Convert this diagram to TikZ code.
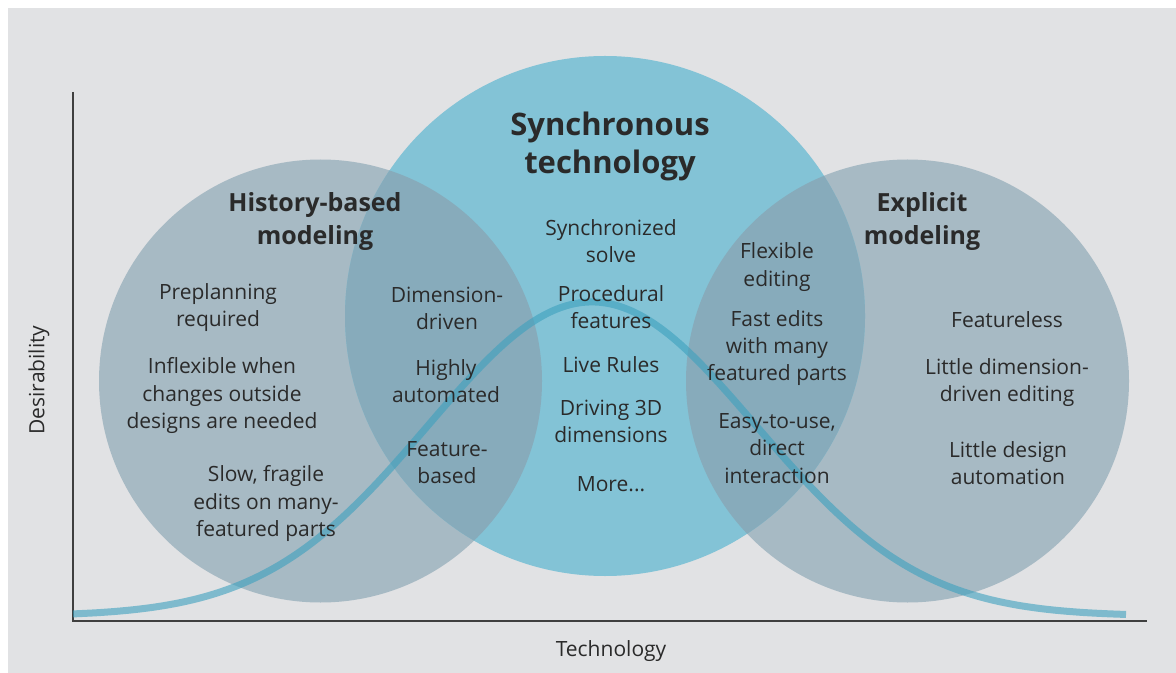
\documentclass[tikz,border=0pt]{standalone}
\usepackage{fontspec}
\setmainfont{Open Sans}

\definecolor{fundo}{HTML}{E1E2E4}
\definecolor{cinzaazul}{HTML}{A7BAC4}
\definecolor{ciano}{HTML}{83C3D6}
\definecolor{sobrepos}{HTML}{87ABBB}
\definecolor{curva}{RGB}{60,160,190}
\definecolor{texto}{HTML}{2A2A2A}

\begin{document}
\begin{tikzpicture}[x=0.5pt, y=-0.5pt,
    rotulo/.style={align=center, text=texto, inner sep=0pt, font=\fontsize{10.5}{13.6}\selectfont},
    titulo/.style={align=center, text=texto, inner sep=0pt, font=\bfseries\fontsize{12.5}{16.5}\selectfont}]

    % Fundo
    \useasboundingbox (0,0) rectangle (1176,673);
    \fill[white] (0,0) rectangle (1176,673);
    \fill[fundo] (8,8) rectangle (1176,673);

    % Centros e raios
    \coordinate (H) at (320.5,381);
    \coordinate (S) at (605,316);
    \coordinate (E) at (907.5,381);
    \def\rl{221.5}
    \def\rc{260}

    % Círculos
    \fill[cinzaazul] (H) circle[radius=\rl];
    \fill[cinzaazul] (E) circle[radius=\rl];
    \fill[ciano] (S) circle[radius=\rc];

    % Interseções
    \begin{scope}
        \clip (H) circle[radius=\rl];
        \fill[sobrepos] (S) circle[radius=\rc];
    \end{scope}
    \begin{scope}
        \clip (E) circle[radius=\rl];
        \fill[sobrepos] (S) circle[radius=\rc];
    \end{scope}

    % Eixos coordenados
    \coordinate (O) at (73,621);
    \draw[line width=0.9pt, texto!90] (73,92) -- (O) -- (1147,621);

    % Curva de desejabilidade
    \draw[line width=3.5pt, curva, opacity=0.6, smooth, samples=150, domain=73:1126]
        plot (\x, {616 - 314*exp(-0.5*((\x-592)/164)^2)});

    % Rótulos dos eixos
    \node[rotulo, rotate=90] (desej) at (39,380) {Desirability};
    \node[rotulo] (tecno) at (611,651) {Technology};

    % Modelagem por histórico
    \node[titulo] (hist) at (315,222) {History-based\\modeling};
    \node[rotulo] (prep) at (218,307.5) {Preplanning\\required};
    \node[rotulo] (infl) at (222,395.5) {Inflexible when\\changes outside\\designs are needed};
    \node[rotulo] (lento) at (266,503.5) {Slow, fragile\\edits on many-\\featured parts};

    % Interseção esquerda
    \node[rotulo] (dim) at (447,308) {Dimension-\\driven};
    \node[rotulo] (auto) at (446,381) {Highly\\automated};
    \node[rotulo] (feat) at (447,463) {Feature-\\based};

    % Tecnologia síncrona
    \node[titulo, font=\bfseries\fontsize{15.5}{19}\selectfont] (sinc) at (610,146) {Synchronous\\technology};
    \node[rotulo] (solve) at (611,241) {Synchronized\\solve};
    \node[rotulo] (proc) at (611,307.5) {Procedural\\features};
    \node[rotulo] (live) at (611,365) {Live Rules};
    \node[rotulo] (driv) at (611,421.5) {Driving 3D\\dimensions};
    \node[rotulo] (mais) at (611,484) {More...};

    % Interseção direita
    \node[rotulo] (flex) at (777,267) {Flexible\\editing};
    \node[rotulo] (rapido) at (777,348) {Fast edits\\with many\\featured parts};
    \node[rotulo] (facil) at (777,448.5) {Easy-to-use,\\direct\\interaction};

    % Modelagem explícita
    \node[titulo] (expl) at (922,222) {Explicit\\modeling};
    \node[rotulo] (semf) at (1007,320) {Featureless};
    \node[rotulo] (poucod) at (1007,382.5) {Little dimension-\\driven editing};
    \node[rotulo] (poucoa) at (1008,463) {Little design\\automation};

\end{tikzpicture}
\end{document}
